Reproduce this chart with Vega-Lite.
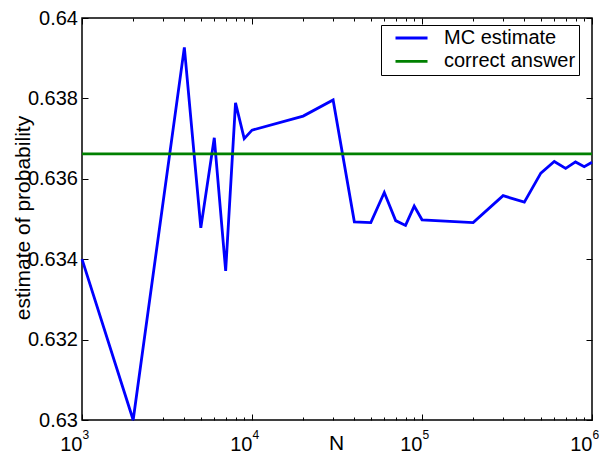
{
  "$schema": "https://vega.github.io/schema/vega-lite/v6.json",
  "width": 510,
  "height": 402,
  "autosize": {"type": "none"},
  "padding": {"left": 82, "top": 18, "right": 15, "bottom": 34},
  "background": "white",
  "config": {
    "view": {"stroke": "black", "strokeWidth": 1.5},
    "font": "Liberation Sans",
    "axis": {
      "domain": false, "grid": false, "tickColor": "black", "tickWidth": 1,
      "labelColor": "black", "titleColor": "black",
      "labelFont": "Liberation Sans", "titleFont": "Liberation Sans", "titleFontWeight": "normal",
      "labelFontSize": 20, "titleFontSize": 21, "labelFlush": false, "labelOverlap": false
    },
    "legend": {
      "orient": "none", "legendX": 299, "legendY": 7, "title": null,
      "strokeColor": "black", "strokeWidth": 1, "fillColor": "white", "padding": 3,
      "symbolType": "M0.2,0H4.47", "symbolSize": 225, "symbolStrokeWidth": 2.8,
      "labelFont": "Liberation Sans", "labelFontSize": 20, "labelColor": "black",
      "labelOffset": 40, "rowPadding": 3.4
    }
  },
  "datasets": {
    "curves": [
      {"series": "MC estimate", "N": 1000, "p": 0.634},
      {"series": "MC estimate", "N": 2000, "p": 0.630},
      {"series": "MC estimate", "N": 4000, "p": 0.63927},
      {"series": "MC estimate", "N": 5000, "p": 0.63478},
      {"series": "MC estimate", "N": 6000, "p": 0.63702},
      {"series": "MC estimate", "N": 7000, "p": 0.63371},
      {"series": "MC estimate", "N": 8000, "p": 0.63789},
      {"series": "MC estimate", "N": 9000, "p": 0.637},
      {"series": "MC estimate", "N": 10000, "p": 0.63721},
      {"series": "MC estimate", "N": 20000, "p": 0.63756},
      {"series": "MC estimate", "N": 30000, "p": 0.63796},
      {"series": "MC estimate", "N": 40000, "p": 0.63493},
      {"series": "MC estimate", "N": 50000, "p": 0.63491},
      {"series": "MC estimate", "N": 60000, "p": 0.63566},
      {"series": "MC estimate", "N": 70000, "p": 0.63496},
      {"series": "MC estimate", "N": 80000, "p": 0.63484},
      {"series": "MC estimate", "N": 90000, "p": 0.63532},
      {"series": "MC estimate", "N": 100000, "p": 0.63498},
      {"series": "MC estimate", "N": 200000, "p": 0.63491},
      {"series": "MC estimate", "N": 300000, "p": 0.63558},
      {"series": "MC estimate", "N": 400000, "p": 0.63542},
      {"series": "MC estimate", "N": 500000, "p": 0.63614},
      {"series": "MC estimate", "N": 600000, "p": 0.63643},
      {"series": "MC estimate", "N": 700000, "p": 0.63626},
      {"series": "MC estimate", "N": 800000, "p": 0.63642},
      {"series": "MC estimate", "N": 900000, "p": 0.6363},
      {"series": "MC estimate", "N": 1000000, "p": 0.63641},
      {"series": "correct answer", "N": 1000, "p": 0.63662},
      {"series": "correct answer", "N": 1000000, "p": 0.63662}
    ]
  },
  "data": {"name": "curves"},
  "layer": [
    {
      "mark": {"type": "line", "strokeWidth": 2.8},
      "encoding": {
        "x": {
          "field": "N", "type": "quantitative",
          "scale": {"type": "log", "domain": [1000, 1000000], "nice": false},
          "axis": {
            "orient": "bottom", "values": [1000, 10000, 100000, 1000000], "tickSize": -6,
            "labelExpr": "'10'", "labelAlign": "right", "labelDx": 0, "labelBaseline": "alphabetic",
            "labelPadding": 36,
            "title": "N", "titleX": 254, "titleY": 29.5, "titleBaseline": "alphabetic", "titleAlign": "center"
          }
        },
        "y": {
          "field": "p", "type": "quantitative",
          "scale": {"domain": [0.63, 0.64], "nice": false, "zero": false},
          "axis": {
            "orient": "left", "values": [0.63, 0.632, 0.634, 0.636, 0.638, 0.64], "format": ".3~f",
            "tickSize": -6, "labelPadding": 10.5,
            "title": "estimate of probability", "titleAngle": 270, "titleX": -52.5, "titleY": 199.5,
            "titleBaseline": "alphabetic", "titleAlign": "center"
          }
        },
        "color": {
          "field": "series", "type": "nominal",
          "scale": {"domain": ["MC estimate", "correct answer"], "range": ["#0000ff", "#008000"]},
          "legend": {"labelExpr": "datum.label + '\u2002'"}
        }
      }
    },
    {
      "mark": {"type": "point", "opacity": 0},
      "encoding": {
        "x": {
          "field": "N", "type": "quantitative",
          "axis": {
            "orient": "bottom", "tickSize": -3, "labels": false, "title": null,
            "values": [2000, 3000, 4000, 5000, 6000, 7000, 8000, 9000, 20000, 30000, 40000, 50000, 60000, 70000, 80000, 90000, 200000, 300000, 400000, 500000, 600000, 700000, 800000, 900000]
          }
        },
        "y": {
          "field": "p", "type": "quantitative",
          "axis": {"orient": "right", "values": [0.63, 0.632, 0.634, 0.636, 0.638, 0.64], "tickSize": -6, "labels": false, "title": null}
        }
      }
    },
    {
      "mark": {"type": "point", "opacity": 0},
      "encoding": {
        "x": {
          "field": "N", "type": "quantitative",
          "axis": {"orient": "top", "values": [1000, 10000, 100000, 1000000], "tickSize": -6, "labels": false, "title": null}
        },
        "y": {"field": "p", "type": "quantitative", "axis": null}
      }
    },
    {
      "mark": {"type": "point", "opacity": 0},
      "encoding": {
        "x": {
          "field": "N", "type": "quantitative",
          "axis": {
            "orient": "top", "tickSize": -3, "labels": false, "title": null,
            "values": [2000, 3000, 4000, 5000, 6000, 7000, 8000, 9000, 20000, 30000, 40000, 50000, 60000, 70000, 80000, 90000, 200000, 300000, 400000, 500000, 600000, 700000, 800000, 900000]
          }
        },
        "y": {"field": "p", "type": "quantitative", "axis": null}
      }
    },
    {
      "mark": {"type": "point", "opacity": 0},
      "encoding": {
        "x": {
          "field": "N", "type": "quantitative",
          "axis": {
            "orient": "bottom", "values": [1000, 10000, 100000, 1000000], "ticks": false,
            "labelExpr": "'' + (length(toString(datum.value)) - 1)", "labelFontSize": 12,
            "labelAlign": "left", "labelDx": 1, "labelBaseline": "alphabetic", "labelPadding": 18,
            "title": null
          }
        },
        "y": {"field": "p", "type": "quantitative", "axis": null}
      }
    }
  ],
  "resolve": {"axis": {"x": "independent", "y": "independent"}}
}
